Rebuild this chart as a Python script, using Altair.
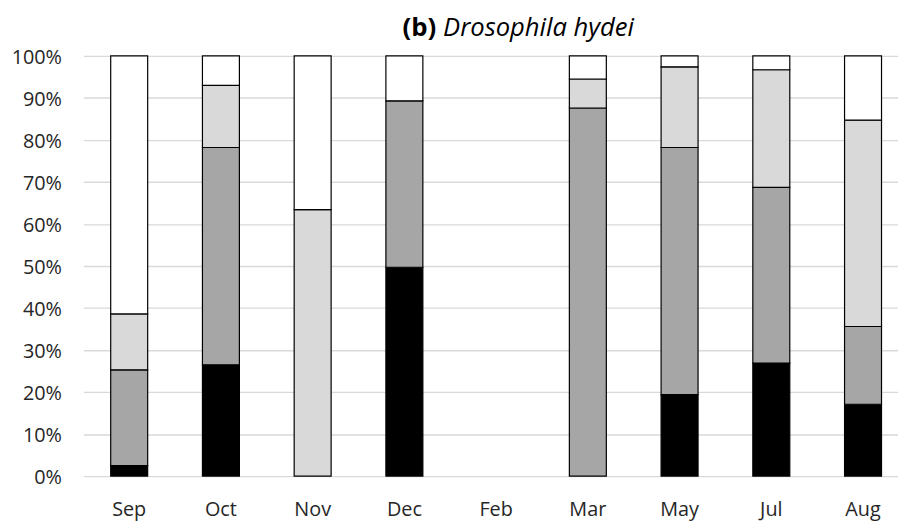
import altair as alt
import pandas as pd

months = ["Sep", "Oct", "Nov", "Dec", "Feb", "Mar", "May", "Jul", "Aug"]
groups = ["g1", "g2", "g3", "g4"]
colors = ["#000000", "#A6A6A6", "#D9D9D9", "#FFFFFF"]

# percentages of each group (bottom to top) per month
g1 = [2.5, 26.5, 0.0, 49.7, 0.0, 0.0, 19.4, 26.9, 17.1]
g2 = [22.8, 51.7, 0.0, 39.6, 0.0, 87.6, 58.8, 41.8, 18.5]
g3 = [13.3, 14.8, 63.4, 0.0, 0.0, 6.9, 19.2, 28.0, 49.1]
g4 = [61.4, 7.0, 36.6, 10.7, 0.0, 5.5, 2.6, 3.3, 15.3]

rows = []
for gi, (g, vals) in enumerate(zip(groups, [g1, g2, g3, g4])):
    for m, v in zip(months, vals):
        rows.append({"month": m, "group": g, "order": gi, "value": v / 100.0})
df = pd.DataFrame(rows)

FONT = "Open Sans"

bars = (
    alt.Chart(df)
    .transform_filter(alt.datum.value > 0)
    .mark_bar(stroke="#000000", strokeWidth=1.2)
    .encode(
        x=alt.X(
            "month:N",
            sort=months,
            scale=alt.Scale(domain=months, range=[0, 833], paddingInner=0.597, paddingOuter=0.2985),
            axis=alt.Axis(
                title=None, labelAngle=0, domain=False, ticks=False, tickSize=0,
                labelFont=FONT, labelFontSize=20, labelColor="#262626", labelPadding=24,
                grid=False,
            ),
        ),
        y=alt.Y(
            "value:Q",
            stack="zero",
            scale=alt.Scale(domain=[0, 1], nice=False),
            axis=alt.Axis(
                title=None, format=".0%", values=[i / 10 for i in range(11)],
                domain=False, ticks=False, tickSize=0, labelPadding=22,
                labelFont=FONT, labelFontSize=20, labelColor="#262626", labelOffset=1.5,
                gridColor="#D9D9D9", gridWidth=1.3,
            ),
        ),
        color=alt.Color("group:N", scale=alt.Scale(domain=groups, range=colors), legend=None),
        order=alt.Order("order:Q"),
    )
)

t1 = alt.Chart(pd.DataFrame({"t": ["(b)"]})).mark_text(
    font=FONT, fontSize=26, fontWeight="bold", align="right", baseline="alphabetic", color="#000000"
).encode(text="t:N", x=alt.value(356), y=alt.value(-20))

t2 = alt.Chart(pd.DataFrame({"t": ["Drosophila hydei"]})).mark_text(
    font=FONT, fontSize=25.8, fontStyle="italic", align="left", baseline="alphabetic", color="#000000"
).encode(text="t:N", x=alt.value(363), y=alt.value(-20))

chart = (
    alt.layer(bars, t1, t2)
    .properties(
        width=822, height=424,
        autosize=alt.AutoSizeParams(type="none"),
        padding={"left": 76, "top": 46, "right": 0, "bottom": 46},
    )
    .configure_view(stroke=None)
)

chart.save("out.html", embed_options={"renderer": "svg", "actions": False})
